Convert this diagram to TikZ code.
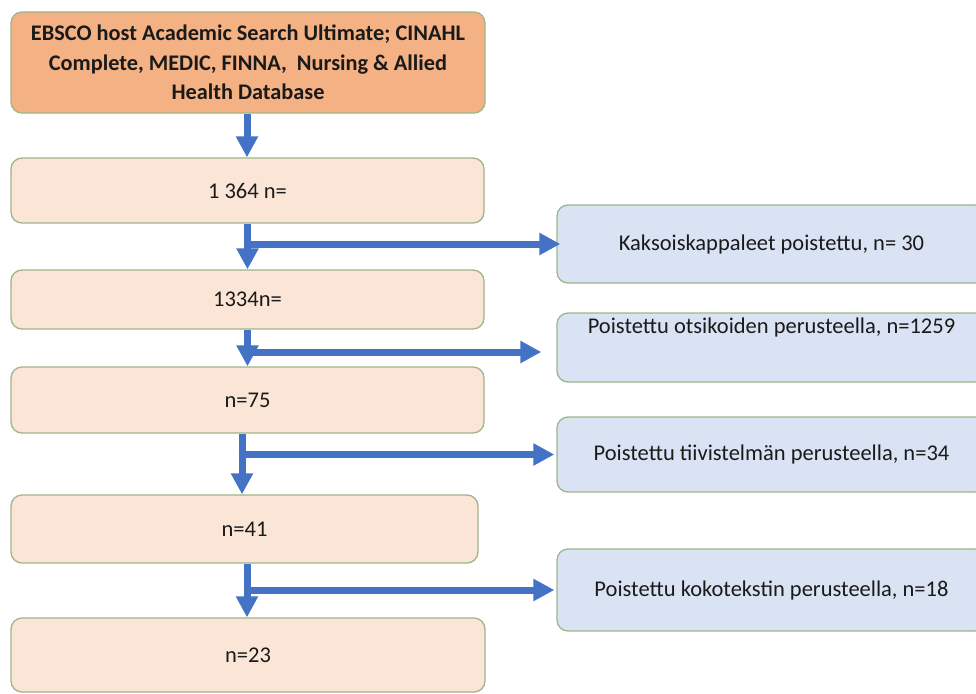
\documentclass[tikz,border=0pt]{standalone}
\usepackage{fontspec}
\setmainfont{Carlito}
\usetikzlibrary{arrows.meta}
\definecolor{arrowblue}{HTML}{4472C4}
\definecolor{topfill}{HTML}{F4B183}
\definecolor{peach}{HTML}{FBE5D6}
\definecolor{lightblue}{HTML}{DAE3F3}
\definecolor{boxborder}{HTML}{9FB58A}
\definecolor{txtcol}{HTML}{1A1A1A}
\tikzset{
  basebox/.style={draw=boxborder, line width=1.3pt, rounded corners=11pt, inner sep=0pt,
    text=txtcol, font=\fontsize{22.5pt}{29.5pt}\selectfont, align=center},
  topbox/.style={basebox, fill=topfill, font=\fontsize{22.3pt}{29.5pt}\selectfont\bfseries},
  leftbox/.style={basebox, fill=peach},
  rightbox/.style={basebox, fill=lightblue, minimum width=429pt},
  lbl/.style={inner sep=0pt, text=txtcol, font=\fontsize{22.5pt}{29.5pt}\selectfont},
  flow/.style={draw=arrowblue, line width=7pt, -{Triangle[width=21pt,length=21pt]}}
}
\begin{document}
\begin{tikzpicture}[x=1pt,y=-1pt]
\useasboundingbox (0,0) rectangle (976,693);
\clip (0,0) rectangle (976,693);
\fill[white] (0,0) rectangle (976,693);

% left column
\node[topbox, minimum width=474pt, minimum height=101pt] (top) at (248,62.5)
  {EBSCO host Academic Search Ultimate; CINAHL\\Complete, MEDIC, FINNA,\ \ Nursing \& Allied\\Health Database};
\node[leftbox, minimum width=473pt, minimum height=65pt] (b1) at (247.5,190.5) {1 364 n=};
\node[leftbox, minimum width=473pt, minimum height=59pt] (b2) at (247.5,299.5) {1334n=};
\node[leftbox, minimum width=473pt, minimum height=66pt] (b3) at (247.5,400) {n=75};
\node[leftbox, minimum width=467pt, minimum height=68pt] (b4) at (244.5,529) {n=41};
\node[leftbox, minimum width=474pt, minimum height=74pt] (b5) at (248,655) {n=23};

% right column
\node[rightbox, minimum height=78pt] (r1) at (771.5,244) {Kaksoiskappaleet poistettu, n= 30};
\node[rightbox, minimum height=69pt] (r2) at (771.5,347.5) {};
\node[lbl] (r2t) at ([yshift=-15pt]r2.north) {Poistettu otsikoiden perusteella, n=1259};
\node[rightbox, minimum height=75pt] (r3) at (771.5,454.5) {Poistettu tiivistelmän perusteella, n=34};
\node[rightbox, minimum height=82pt] (r4) at (771.5,590) {Poistettu kokotekstin perusteella, n=18};

% connectors
\draw[flow] ([xshift=-1pt]top.south) -- ([xshift=-1pt]top.south |- b1.north);

\draw[flow] (b1.south) -- (b2.north);
\draw[flow] ([xshift=-3.5pt]b1.south |- r1.west) -- ([xshift=4pt]r1.west);

\draw[flow] (b2.south) -- (b2.south |- b3.north);
\draw[flow] ([xshift=-3.5pt,yshift=-4.5pt]b2.south |- r2.west) -- ([xshift=-15pt,yshift=-4.5pt]r2.west);

\draw[flow] ([xshift=-5.5pt]b3.south) -- ([xshift=-5.5pt]b3.south |- b4.north);
\draw[flow] ([xshift=-9pt]b3.south |- r3.west) -- ([xshift=-2pt]r3.west);

\draw[flow] ([xshift=2.5pt]b4.south) -- ([xshift=2.5pt]b4.south |- b5.north);
\draw[flow] ([xshift=-1pt]b4.south |- r4.west) -- ([xshift=-2pt]r4.west);
\end{tikzpicture}
\end{document}
